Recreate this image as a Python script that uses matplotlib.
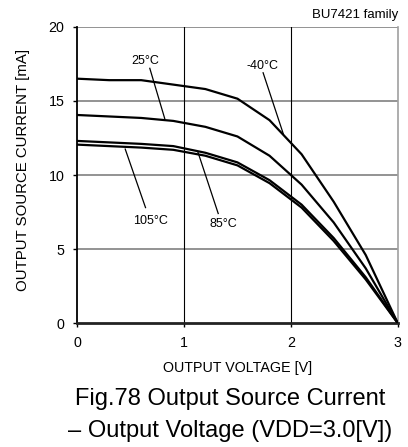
import matplotlib
matplotlib.use("Agg")
import matplotlib.pyplot as plt

plt.rcParams['font.family'] = ['Liberation Sans', 'DejaVu Sans']

voltage = [0.0, 0.3, 0.6, 0.9, 1.2, 1.5, 1.8, 2.1, 2.4, 2.7, 3.0]
cur_m40 = [16.5, 16.4, 16.4, 16.1, 15.8, 15.15, 13.7, 11.4, 8.2, 4.6, 0.0]
cur_25 = [14.05, 13.95, 13.85, 13.65, 13.25, 12.6, 11.3, 9.35, 6.8, 3.7, 0.0]
cur_85 = [12.3, 12.2, 12.1, 11.95, 11.5, 10.85, 9.65, 8.0, 5.75, 3.1, 0.0]
cur_105 = [12.05, 11.95, 11.85, 11.7, 11.3, 10.65, 9.45, 7.8, 5.55, 2.95, 0.0]

x_ticks = [0, 1, 2, 3]
y_ticks = [0, 5, 10, 15, 20]

fig = plt.figure(figsize=(4.08, 4.47), dpi=100)
ax = fig.add_axes([0.189, 0.277, 0.786, 0.663])

for v in [5, 10, 15, 20]:
    ax.axhline(v, color='#808080', lw=1.2, zorder=1)
for v in [1, 2]:
    ax.axvline(v, color='black', lw=0.8, zorder=1)

for c in [cur_m40, cur_25, cur_85, cur_105]:
    ax.plot(voltage, c, color='black', lw=1.6, zorder=3, solid_joinstyle='miter')

ax.set_xlim(0, 3)
ax.set_ylim(0, 20)
ax.set_xticks(x_ticks)
ax.set_yticks(y_ticks)
ax.tick_params(labelsize=10.3, length=3, width=1, color='black', pad=6)

ax.spines['top'].set_visible(False)
ax.spines['right'].set_color('#a0a0a0')
ax.spines['right'].set_linewidth(1.2)
ax.spines['left'].set_linewidth(1.3)
ax.spines['bottom'].set_linewidth(2)
ax.spines['bottom'].set_color('#222222')

ax.set_xlabel('OUTPUT VOLTAGE [V]', fontsize=10.3)
ax.xaxis.set_label_coords(0.5, -0.152)
ax.xaxis.label.set_va('center')
ax.set_ylabel('OUTPUT SOURCE CURRENT [mA]', fontsize=10.8)
ax.yaxis.set_label_coords(-0.17, 0.517)
ax.yaxis.label.set_va('center')

# annotations
ann = [
    ('25°C', (0.64, 17.72), (0.68, 17.2), (0.82, 13.8)),
    ('-40°C', (1.73, 17.37), (1.74, 16.9), (1.93, 12.75)),
    ('105°C', (0.69, 6.89), (0.64, 7.8), (0.45, 11.75)),
    ('85°C', (1.364, 6.69), (1.32, 7.4), (1.13, 11.55)),
]
for txt, tp, p0, p1 in ann:
    ax.text(tp[0], tp[1], txt, fontsize=9, ha='center', va='center', zorder=4)
    ax.plot([p0[0], p1[0]], [p0[1], p1[1]], color='black', lw=0.9, zorder=4)

fig.text(0.975, 0.966, 'BU7421 family', fontsize=9.5, ha='right', va='center')
fig.text(0.565, 0.094, 'Fig.78 Output Source Current', fontsize=17, ha='center', va='baseline')
fig.text(0.563, 0.022, '– Output Voltage (VDD=3.0[V])', fontsize=17, ha='center', va='baseline')

fig.savefig('out.png', dpi=100)
